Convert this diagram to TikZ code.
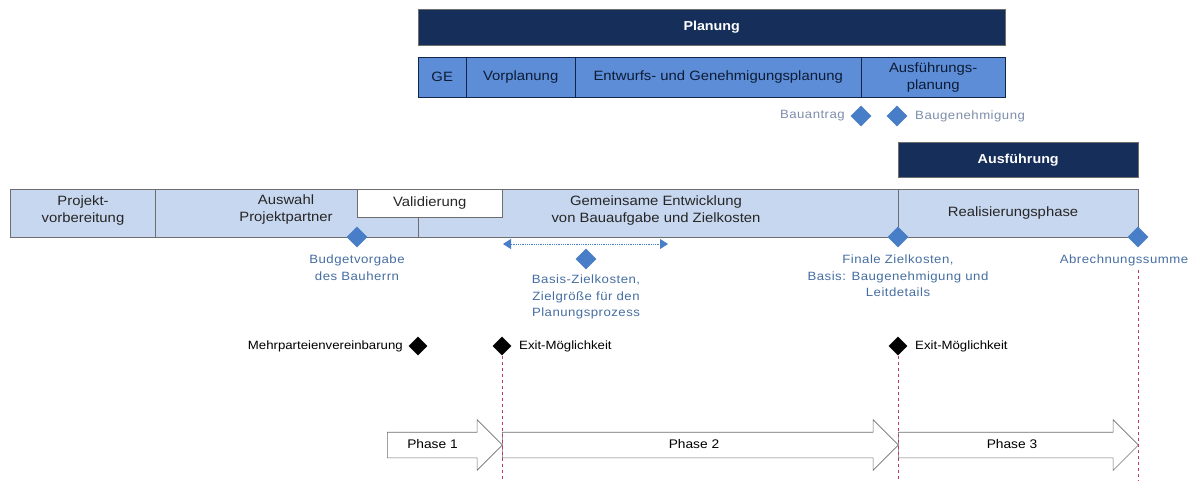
\documentclass[tikz,border=0pt]{standalone}
\usepackage{fontspec}
\setmainfont{Liberation Sans}[FakeStretch=1.1]
\usetikzlibrary{positioning,shapes.geometric,shapes.arrows,arrows.meta}
\definecolor{navy}{RGB}{22,46,90}
\definecolor{midblue}{RGB}{92,141,214}
\definecolor{lightblue}{RGB}{198,215,239}
\definecolor{dmdblue}{RGB}{72,125,200}
\definecolor{lblblue}{RGB}{70,110,160}
\definecolor{lblgray}{RGB}{125,142,170}
\definecolor{exitred}{RGB}{192,60,90}
\definecolor{rim}{RGB}{110,110,110}
\begin{document}
\begin{tikzpicture}[x=1pt,y=-1pt,
  navybar/.style={draw=rim, fill=navy, text=white, font=\bfseries\fontsize{13}{15}\selectfont, anchor=north west, inner sep=0pt},
  subbar/.style={draw=navy!80!black, fill=midblue, text=navy!60!black, font=\fontsize{13.5}{17}\selectfont, align=center, anchor=north west, inner sep=0pt},
  mainbar/.style={draw=rim, fill=lightblue, anchor=north west, inner sep=0pt},
  bartext/.style={font=\fontsize{13.5}{17}\selectfont, align=center, text=black!85},
  bdmd/.style={diamond, fill=dmdblue, minimum width=21pt, minimum height=21pt, inner sep=0pt},
  kdmd/.style={diamond, fill=black, minimum width=19pt, minimum height=19pt, inner sep=0pt},
  lbl/.style={font=\fontsize{12}{16.5}\selectfont\addfontfeature{LetterSpace=4}, text=lblblue, align=center},
  klbl/.style={font=\fontsize{12}{13}\selectfont, text=black},
  phase/.style={single arrow, draw=rim, fill=white, semithick, inner xsep=0pt, inner ysep=6.5pt, text height=9pt, text depth=3pt, single arrow head extend=12.5pt, minimum width=50pt, font=\fontsize{12.5}{14}\selectfont},
  exitline/.style={exitred, dashed, semithick}
]
\useasboundingbox (0,0) rectangle (1196,480);
\node[navybar, minimum width=587pt, minimum height=36pt] (planung) at (418,9) {Planung};
\node[subbar, minimum width=48pt, minimum height=40pt] (ge) at (418,57) {GE};
\node[subbar, minimum width=109pt, minimum height=40pt] (vorpl) at (466,57) {Vorplanung};
\node[subbar, minimum width=286pt, minimum height=40pt] (entwurf) at (575,57) {Entwurfs- und Genehmigungsplanung};
\node[subbar, minimum width=144pt, minimum height=40pt] (ausfpl) at (861,57) {Ausführungs-\\planung};
\node[bdmd] (antrag) at (861,116) {};
\node[bdmd] (genehm) at (897,116) {};
\node[lbl, text=lblgray, left=2pt of antrag] (antraglbl) {Bauantrag};
\node[lbl, text=lblgray, right=4pt of genehm] (genehmlbl) {Baugenehmigung};
\node[navybar, minimum width=240pt, minimum height=35pt] (ausf) at (898,142) {Ausführung};
\node[mainbar, minimum width=145pt, minimum height=48pt] (projbox) at (10,189) {};
\node[mainbar, minimum width=743pt, minimum height=48pt] (mitte) at (155,189) {};
\node[mainbar, minimum width=240pt, minimum height=48pt] (realbox) at (898,189) {};
\node[draw=rim, fill=white, anchor=north west, minimum width=145pt, minimum height=28pt, inner sep=0pt] (valid) at (357,189) {};
\draw[rim] (valid.south -| 418,0) -- (mitte.south -| 418,0);
\node[bartext] (proj) at (83,211) {Projekt-\\vorbereitung};
\node[bartext] (auswahl) at (286,210) {Auswahl\\Projektpartner};
\node[bartext] (validtxt) at (valid.center) {Validierung};
\node[bartext] (gemein) at (656,211) {Gemeinsame Entwicklung\\von Bauaufgabe und Zielkosten};
\node[bartext] (real) at (1013,213) {Realisierungsphase};
\node[bdmd] (budget) at (357,237) {};
\node[lbl, below=4pt of budget] (budgetlbl) {Budgetvorgabe\\des Bauherrn};
\coordinate (dl) at (503,244);
\coordinate (dr) at (668,244);
\draw[dmdblue, densely dotted, thick, {Triangle[length=8pt,width=10pt]}-{Triangle[length=8pt,width=10pt]}] (dl) -- (dr);
\node[bdmd] (basis) at (586,259) {};
\node[lbl, below=2pt of basis] (basislbl) {Basis-Zielkosten,\\Zielgröße für den\\Planungsprozess};
\node[bdmd] (finale) at (898,237) {};
\node[lbl, below=4pt of finale] (finalelbl) {Finale Zielkosten,\\Basis: Baugenehmigung und\\Leitdetails};
\node[bdmd] (abr) at (1138,237) {};
\node[lbl, below=4pt of abr, xshift=-14pt] (abrlbl) {Abrechnungssumme};
\node[kdmd] (mpv) at (418,346) {};
\node[klbl, left=2pt of mpv] (mpvlbl) {Mehrparteienvereinbarung};
\node[kdmd] (exit1) at (502,346) {};
\node[klbl, right=4pt of exit1] (exit1lbl) {Exit-Möglichkeit};
\node[kdmd] (exit2) at (898,346) {};
\node[klbl, right=4pt of exit2] (exit2lbl) {Exit-Möglichkeit};
\node[phase, minimum height=115pt] (ph1) at (438.5,445) {Phase 1\hspace*{12pt}};
\node[phase, minimum height=396pt] (ph2) at (694,445) {Phase 2};
\node[phase, minimum height=240pt] (ph3) at (1012,445) {Phase 3};
\coordinate (e1) at (502,480);
\coordinate (e2) at (898,480);
\coordinate (e3) at (1138,480);
\draw[exitline] (exit1.south) -- (e1);
\draw[exitline] (exit2.south) -- (e2);
\draw[exitline] (abrlbl.south -| abr) -- (e3);
\end{tikzpicture}
\end{document}
